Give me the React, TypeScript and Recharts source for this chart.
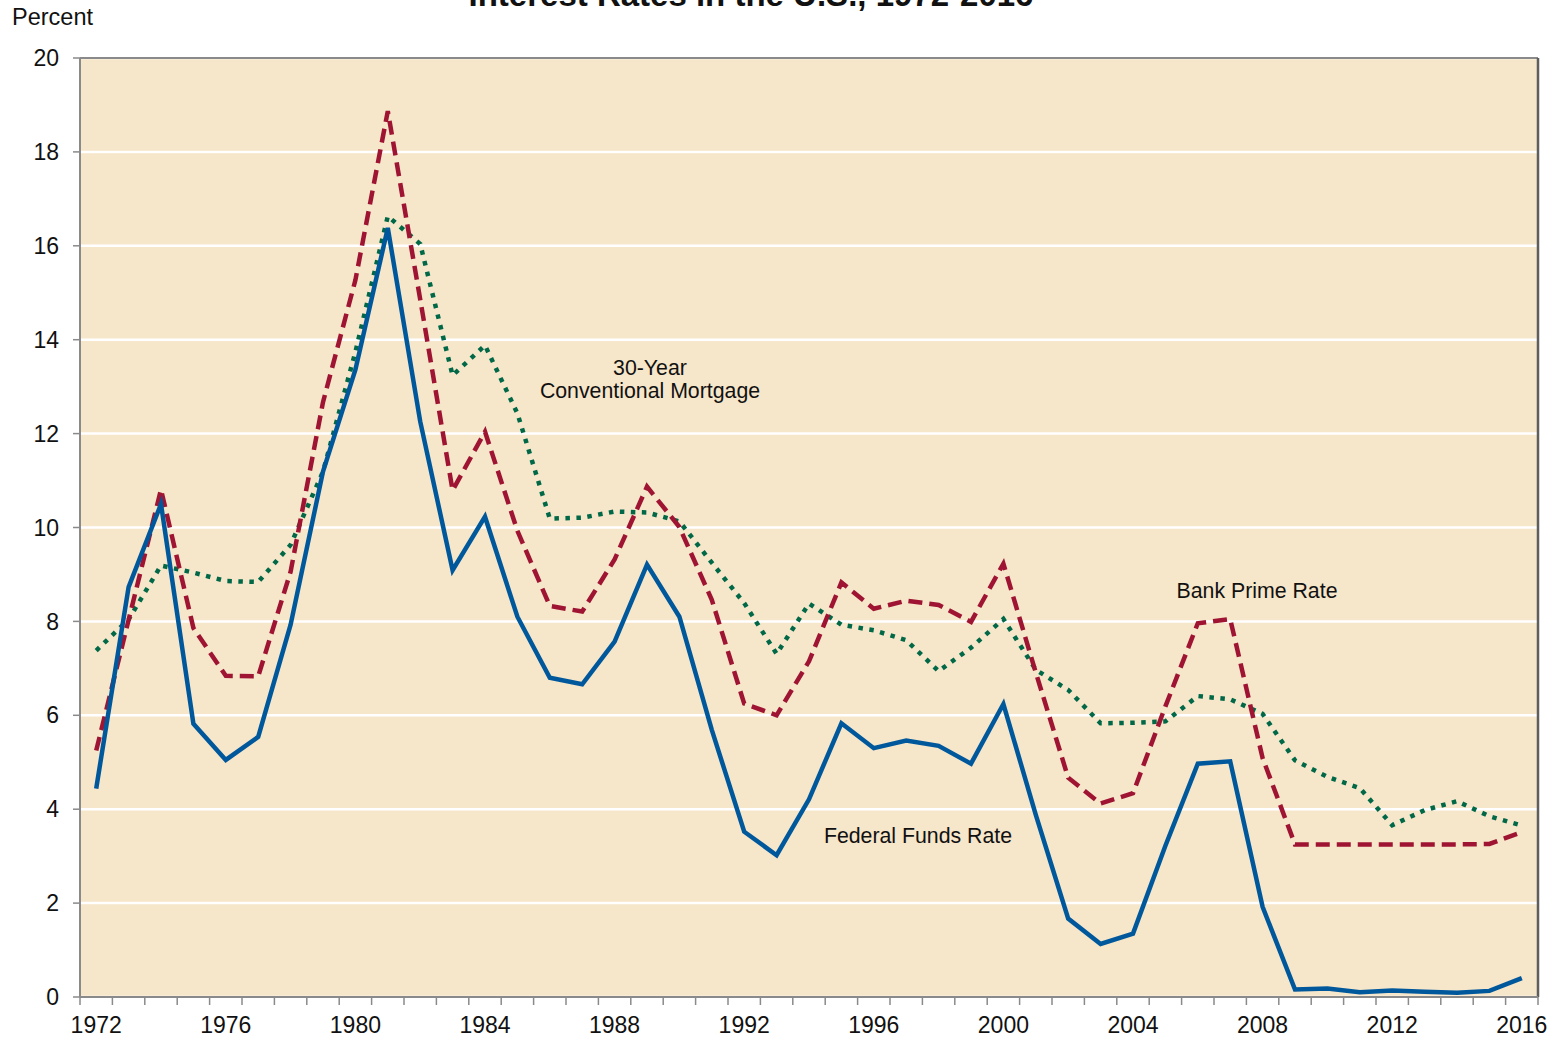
import React from 'react';
import { LineChart, Line, XAxis, YAxis, CartesianGrid, ReferenceLine } from 'recharts';

const years = [
  1972, 1973, 1974, 1975, 1976, 1977, 1978, 1979, 1980, 1981,
  1982, 1983, 1984, 1985, 1986, 1987, 1988, 1989, 1990, 1991,
  1992, 1993, 1994, 1995, 1996, 1997, 1998, 1999, 2000, 2001,
  2002, 2003, 2004, 2005, 2006, 2007, 2008, 2009, 2010, 2011,
  2012, 2013, 2014, 2015, 2016,
];

const federalFunds = [
  4.44, 8.73, 10.5, 5.82, 5.05, 5.54, 7.93, 11.19, 13.36, 16.38,
  12.26, 9.09, 10.23, 8.1, 6.8, 6.66, 7.57, 9.21, 8.1, 5.69,
  3.52, 3.02, 4.21, 5.83, 5.3, 5.46, 5.35, 4.97, 6.24, 3.88,
  1.67, 1.13, 1.35, 3.22, 4.97, 5.02, 1.92, 0.16, 0.18, 0.1,
  0.14, 0.11, 0.09, 0.13, 0.4,
];

const primeRate = [
  5.25, 8.03, 10.81, 7.86, 6.84, 6.83, 9.06, 12.67, 15.27, 18.87,
  14.86, 10.79, 12.04, 9.93, 8.33, 8.21, 9.32, 10.87, 10.01, 8.46,
  6.25, 6.0, 7.15, 8.83, 8.27, 8.44, 8.35, 7.99, 9.23, 6.91,
  4.67, 4.12, 4.34, 6.19, 7.96, 8.05, 5.09, 3.25, 3.25, 3.25,
  3.25, 3.25, 3.25, 3.26, 3.51,
];

const mortgage30 = [
  7.38, 8.04, 9.19, 9.04, 8.86, 8.84, 9.63, 11.19, 13.74, 16.63,
  16.04, 13.24, 13.88, 12.43, 10.19, 10.21, 10.34, 10.32, 10.13, 9.25,
  8.39, 7.31, 8.38, 7.93, 7.81, 7.6, 6.94, 7.44, 8.05, 6.97,
  6.54, 5.83, 5.84, 5.87, 6.41, 6.34, 6.03, 5.04, 4.69, 4.45,
  3.66, 3.98, 4.17, 3.85, 3.65,
];

const xLabelYears = [1972, 1976, 1980, 1984, 1988, 1992, 1996, 2000, 2004, 2008, 2012, 2016];
const yTicks = [0, 2, 4, 6, 8, 10, 12, 14, 16, 18, 20];

const data = years.map((year, i) => ({
  year,
  fed: federalFunds[i],
  prime: primeRate[i],
  mortgage: mortgage30[i],
}));

const boundaryTicks = years.map((y) => y - 0.5).concat([years[years.length - 1] + 0.5]);

const FONT = '"Liberation Sans", Arial, Helvetica, sans-serif';
const W = 1564;
const H = 1042;
const MARGIN = { top: 58, right: 26, left: 0, bottom: 0 };
const Y_AXIS_W = 80;
const X_AXIS_H = 45;
const PLOT_W = W - MARGIN.right - Y_AXIS_W;
const BAND = PLOT_W / years.length;

const AXIS_GRAY = '#8a8a8a';

const XTick = (props: any) => {
  const { x, y, payload } = props;
  const yr = Math.round(payload.value + 0.5);
  if (!xLabelYears.includes(yr)) return <g />;
  return (
    <text
      x={x + BAND / 2}
      y={y}
      dy="0.71em"
      textAnchor="middle"
      fontSize={23}
      fontFamily={FONT}
      fill="#111"
    >
      {yr}
    </text>
  );
};

export default function App() {
  return (
    <div style={{ position: 'absolute', left: 0, top: 0, width: W, height: H, background: '#fff' }}>
      <LineChart width={W} height={H} data={data} margin={MARGIN}>
        <CartesianGrid
          vertical={false}
          horizontal={true}
          stroke="#ffffff"
          strokeWidth={2.5}
          fill="#F6E6CA"
          fillOpacity={1}
        />
        <XAxis
          dataKey="year"
          type="number"
          domain={[boundaryTicks[0], boundaryTicks[boundaryTicks.length - 1]]}
          ticks={boundaryTicks}
          interval={0}
          height={X_AXIS_H}
          axisLine={{ stroke: AXIS_GRAY, strokeWidth: 2 }}
          tickLine={{ stroke: AXIS_GRAY, strokeWidth: 1.5 }}
          tickSize={8}
          tickMargin={12}
          tick={<XTick />}
          allowDecimals={true}
        />
        <YAxis
          type="number"
          domain={[0, 20]}
          ticks={yTicks}
          interval={0}
          width={Y_AXIS_W}
          axisLine={{ stroke: AXIS_GRAY, strokeWidth: 2 }}
          tickLine={{ stroke: AXIS_GRAY, strokeWidth: 1.5 }}
          tickSize={7}
          tickMargin={14}
          tick={{ fontSize: 23, fill: '#111', fontFamily: FONT }}
        />
        <ReferenceLine y={20} stroke={AXIS_GRAY} strokeWidth={2} />
        <ReferenceLine x={boundaryTicks[boundaryTicks.length - 1]} stroke="#5e5e5e" strokeWidth={2.5} />
        <Line
          type="linear"
          dataKey="mortgage"
          stroke="#006847"
          strokeWidth={4.5}
          strokeDasharray="4.5 6.5"
          dot={false}
          isAnimationActive={false}
        />
        <Line
          type="linear"
          dataKey="prime"
          stroke="#9E1432"
          strokeWidth={4.5}
          strokeDasharray="14 7"
          dot={false}
          isAnimationActive={false}
        />
        <Line
          type="linear"
          dataKey="fed"
          stroke="#00589C"
          strokeWidth={4.5}
          dot={false}
          isAnimationActive={false}
        />
      </LineChart>
      <svg
        width={W}
        height={H}
        style={{ position: 'absolute', left: 0, top: 0, pointerEvents: 'none' }}
        fontFamily={FONT}
      >
        <text x={751} y={6} textAnchor="middle" fontSize={33} fontWeight="bold" fill="#111">
          Interest Rates in the U.S., 1972-2016
        </text>
        <text x={12} y={25} fontSize={23.5} fill="#111">Percent</text>
        <text x={650} y={375} textAnchor="middle" fontSize={21.3} fill="#111">30-Year</text>
        <text x={650} y={398} textAnchor="middle" fontSize={21.3} fill="#111">Conventional Mortgage</text>
        <text x={1257} y={598} textAnchor="middle" fontSize={21.3} fill="#111">Bank Prime Rate</text>
        <text x={918} y={843} textAnchor="middle" fontSize={21.3} fill="#111">Federal Funds Rate</text>
      </svg>
    </div>
  );
}
